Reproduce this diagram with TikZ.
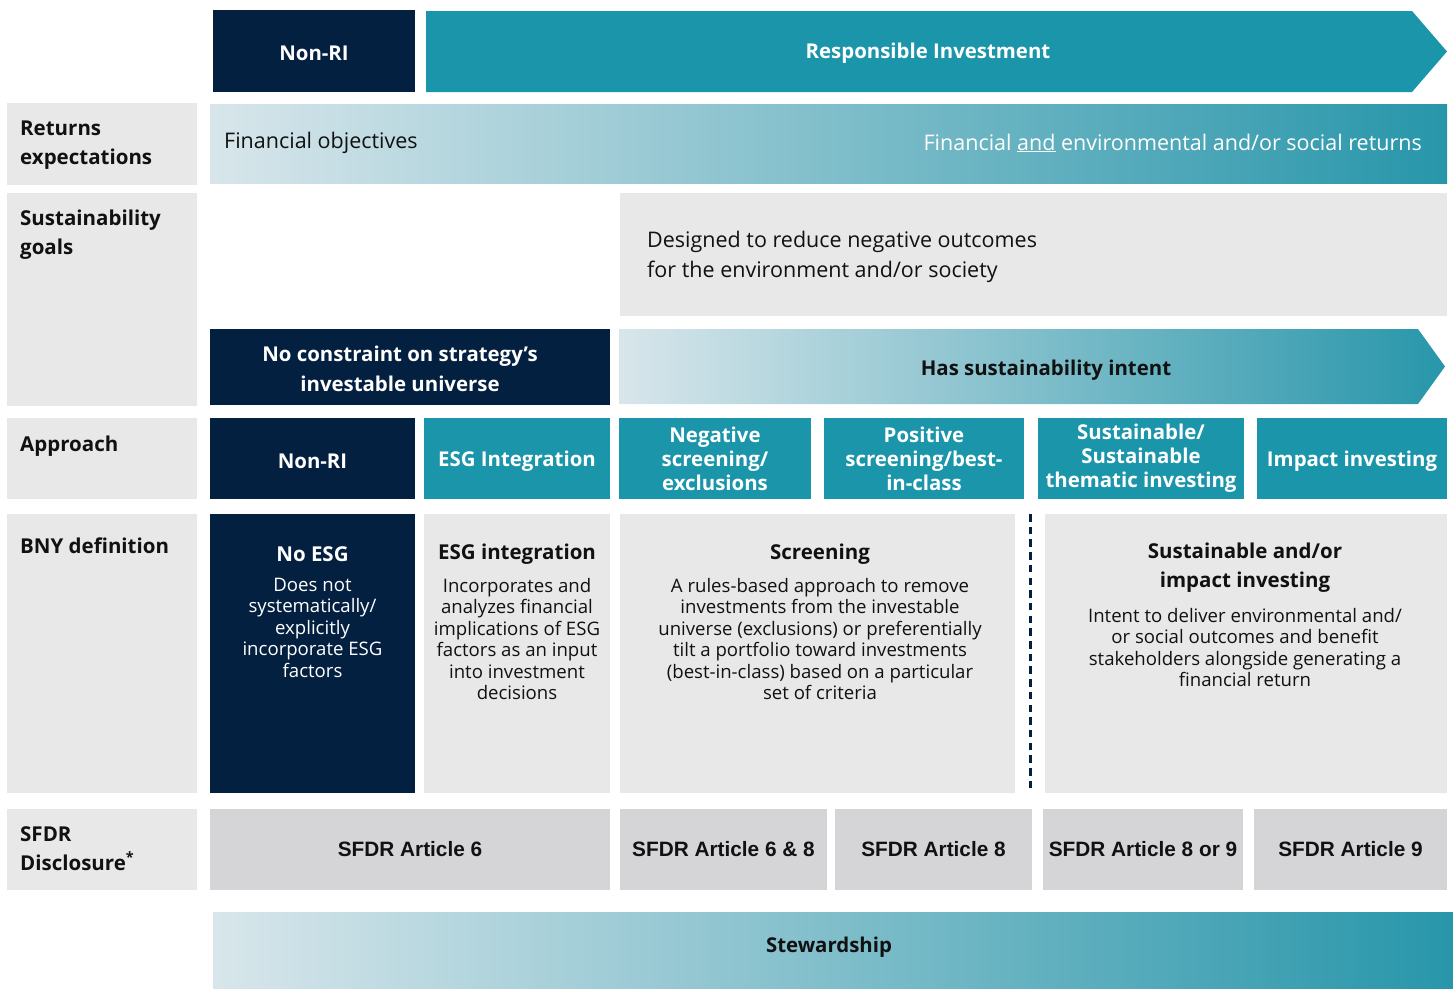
\documentclass[tikz,border=0pt]{standalone}
\usepackage{fontspec}
\setmainfont{Open Sans}
\newfontfamily\arialfont{Liberation Sans}
\usepackage{tikz}
\usetikzlibrary{positioning}
\definecolor{bnynavy}{RGB}{3,32,64}
\definecolor{bnyteal}{RGB}{27,149,170}
\definecolor{bnygray}{RGB}{232,232,232}
\definecolor{sfdrgray}{RGB}{213,213,215}
\definecolor{gradlight}{RGB}{216,230,235}
\definecolor{gradteal}{RGB}{40,150,170}
\definecolor{textdark}{RGB}{17,17,17}
\newcommand{\headfont}{\fontsize{20.4}{24}\selectfont\bfseries}
\newcommand{\labelfont}{\fontsize{20.5}{29}\selectfont\bfseries}
\newcommand{\bodyfont}{\fontsize{21.5}{30}\selectfont}
\newcommand{\deffont}{\fontsize{18.6}{21.5}\selectfont}
\newcommand{\sfdrfont}{\arialfont\fontsize{20.8}{24}\selectfont\bfseries}

\begin{document}
\begin{tikzpicture}[x=1pt, y=-1pt,
    cell/.style 2 args={inner sep=0pt, outer sep=0pt, minimum width=#1pt, minimum height=#2pt},
    navycell/.style={fill=bnynavy, text=white, font=\headfont, align=center},
    tealcell/.style={fill=bnyteal, text=white, font=\headfont, align=center},
    graycell/.style={fill=bnygray, text=textdark},
    sfdrcell/.style={fill=sfdrgray, text=textdark, font=\sfdrfont},
    gradcell/.style={left color=gradlight, right color=gradteal},
    labeltext/.style={inner sep=0pt, anchor=north west, align=left, text=textdark, font=\labelfont},
    defhead/.style={inner sep=0pt, align=center, font=\labelfont},
    defbody/.style={inner sep=0pt, anchor=north, align=center, font=\deffont}]
    \useasboundingbox (0,0) rectangle (1453,988);

    \node[navycell, cell={202}{82}] (topnonri) at (314,51) {};
    \node[text=white, font=\headfont] (topnonritext) at (314,53) {Non-RI};
    \fill[bnyteal] (426,11) -- (1412,11) -- (1447,51.5) -- (1412,92) -- (426,92) -- cycle;
    \node[text=white, font=\headfont] (ri) at (928,53) {Responsible Investment};

    \node[graycell, cell={190}{82}] (retlabel) at (102,144) {};
    \node[labeltext] at (20,121) {Returns\\expectations};
    \node[gradcell, cell={1237}{79}] (retbar) at (828.5,143.5) {};
    \node[font=\bodyfont, text=textdark, anchor=west, inner sep=0pt] (finobj) at (224,143) {Financial objectives};
    \node[font=\bodyfont, text=white, anchor=east, inner sep=0pt] (finenv) at (1422,143) {Financial \underline{and} environmental and/or social returns};

    \node[graycell, cell={190}{213}] (suslabel) at (102,299.5) {};
    \node[labeltext] at (20,210) {Sustainability\\goals};
    \node[graycell, cell={827}{123}] (reduce) at (1033.5,254.5) {};
    \node[font=\bodyfont, text=textdark, anchor=west, align=left, inner sep=0pt] (reducetext) at (647,257) {Designed to reduce negative outcomes\\for the environment and/or society};
    \node[navycell, cell={400}{76}] (noconstraint) at (410,367) {};
    \node[text=white, font=\fontsize{20.4}{30}\selectfont\bfseries, align=center] (noconstrainttext) at (400,369) {No constraint on strategy’s\\investable universe};
    \shade[left color=gradlight, right color=gradteal] (619,329) -- (1418,329) -- (1445,366.5) -- (1418,404) -- (619,404) -- cycle;
    \node[text=textdark, font=\headfont] (intent) at (1046,370) {Has sustainability intent};

    \node[graycell, cell={190}{81}] (applabel) at (102,458.5) {};
    \node[labeltext] at (20,436) {Approach};
    \node[navycell, cell={205}{81}] (nonri) at (312.5,458.5) {};
    \node[text=white, font=\headfont] (nonritext) at (312.5,461) {Non-RI};
    \node[tealcell, cell={186}{81}] (esgint) at (517,458.5) {};
    \node[text=white, font=\headfont] (esginttext) at (517,461) {ESG Integration};
    \node[tealcell, cell={192}{81}] (negscr) at (715,458.5) {Negative\\screening/\\exclusions};
    \node[tealcell, cell={200}{81}] (posscr) at (924,458.5) {Positive\\screening/best-\\in-class};
    \node[tealcell, cell={206}{81}] (susthem) at (1141,458.5) {Sustainable/\\Sustainable\\thematic investing};
    \node[tealcell, cell={190}{81}] (impact) at (1352,458.5) {};
    \node[text=white, font=\headfont] (impacttext) at (1352,461) {Impact investing};

    \node[graycell, cell={190}{279}] (deflabel) at (102,653.5) {};
    \node[labeltext] at (20,538) {BNY definition};
    \node[navycell, cell={205}{279}] (noesg) at (312.5,653.5) {};
    \node[graycell, cell={186}{279}] (esgdef) at (517,653.5) {};
    \node[graycell, cell={395}{279}] (screendef) at (817.5,653.5) {};
    \node[graycell, cell={402}{279}] (susdef) at (1246,653.5) {};
    \coordinate (dashtop) at (1030,514);
    \coordinate (dashbot) at (1030,793);
    \draw[bnynavy, line width=3pt, dash pattern=on 7.5pt off 5.2pt] (dashtop) -- (dashbot);

    \node[defhead, text=white] (noesghead) at (312.5,554) {No ESG};
    \node[defbody, text=white] (noesgbody) at (312.5,578) {Does not\\systematically/\\explicitly\\incorporate ESG\\factors};
    \node[defhead, text=textdark] (esghead) at (517,554) {ESG integration};
    \node[defbody, text=textdark] (esgbody) at (517,578) {Incorporates and\\analyzes financial\\implications of ESG\\factors as an input\\into investment\\decisions};
    \node[defhead, text=textdark] (screenhead) at (820,554) {Screening};
    \node[defbody, text=textdark] (screenbody) at (820,578) {A rules-based approach to remove\\investments from the investable\\universe (exclusions) or preferentially\\tilt a portfolio toward investments\\(best-in-class) based on a particular\\set of criteria};
    \node[defhead, text=textdark] (sushead) at (1245,568) {Sustainable and/or\\impact investing};
    \node[defbody, text=textdark] (susbody) at (1245,608) {Intent to deliver environmental and/\\or social outcomes and benefit\\stakeholders alongside generating a\\financial return};

    \node[graycell, cell={190}{81}] (sfdrlabel) at (102,849.5) {};
    \node[labeltext] at (20,826) {SFDR\\Disclosure\textsuperscript{*}};
    \node[sfdrcell, cell={400}{81}] (art6) at (410,849.5) {SFDR Article 6};
    \node[sfdrcell, cell={207}{81}] (art68) at (723.5,849.5) {SFDR Article 6 \& 8};
    \node[sfdrcell, cell={197}{81}] (art8) at (933.5,849.5) {SFDR Article 8};
    \node[sfdrcell, cell={200}{81}] (art89) at (1143,849.5) {SFDR Article 8 or 9};
    \node[sfdrcell, cell={193}{81}] (art9) at (1350.5,849.5) {SFDR Article 9};

    \node[gradcell, cell={1240}{76}] (stewardship) at (833,950) {};
    \node[text=textdark, font=\headfont] (stewardtext) at (829,947) {Stewardship};
\end{tikzpicture}
\end{document}
